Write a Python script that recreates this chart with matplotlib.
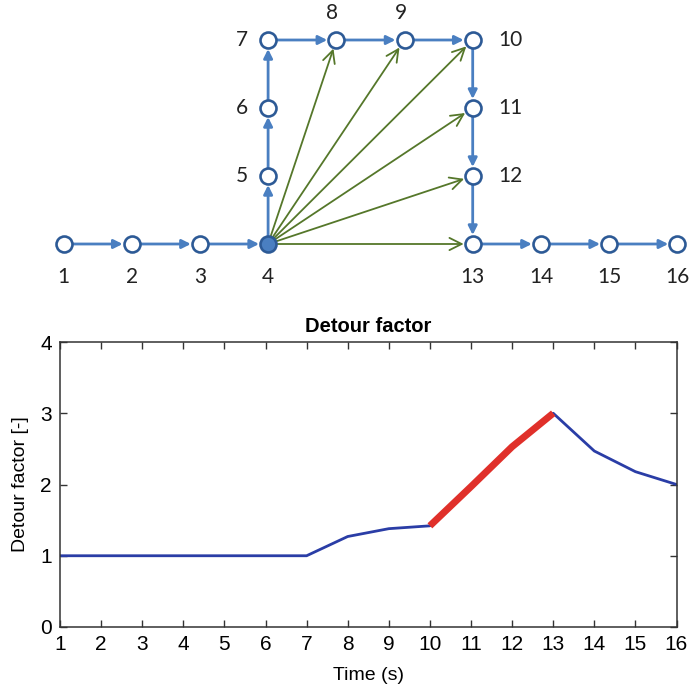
import matplotlib.pyplot as plt

# Graph layout (grid units)
node_ids = list(range(1, 17))
node_gx = [0, 1, 2, 3, 3, 3, 3, 4, 5, 6, 6, 6, 6, 7, 8, 9]
node_gy = [0, 0, 0, 0, 1, 2, 3, 3, 3, 3, 2, 1, 0, 0, 0, 0]
label_side = ['b', 'b', 'b', 'b', 'l', 'l', 'l', 't', 't', 'r', 'r', 'r', 'b', 'b', 'b', 'b']
path_edges = [(i, i + 1) for i in range(1, 16)]
shortcut_edges = [(4, 8), (4, 9), (4, 10), (4, 11), (4, 12), (4, 13)]
current_node = 4

# Detour factor series
time_s = [1, 2, 3, 4, 5, 6, 7, 8, 9, 10, 11, 12, 13, 14, 15, 16]
detour = [1.0, 1.0, 1.0, 1.0, 1.0, 1.0, 1.0, 1.27, 1.38, 1.42, 1.97, 2.53, 3.0, 2.47, 2.18, 2.0]
red_from, red_to = 10, 13

blue = '#4a7fc1'
dark = '#2d5a96'
green = '#55772a'

fig = plt.figure(figsize=(6.9, 6.89), dpi=100)

# --- top: network diagram ---
ax1 = fig.add_axes([0, 1 - 290 / 689, 1, 290 / 689])
ax1.set_xlim(-63.5 / 68.2, (690 - 63.5) / 68.2)
ax1.set_ylim((244 - 290) / 68.0, 244 / 68.0)
ax1.axis('off')

pos = {n: (x, y) for n, x, y in zip(node_ids, node_gx, node_gy)}

for a, b in shortcut_edges:
    ax1.annotate('', xy=pos[b], xytext=pos[a],
                 arrowprops=dict(arrowstyle='->', color=green, lw=1.3,
                                 shrinkA=0, shrinkB=6.5, mutation_scale=22),
                 zorder=1)
for a, b in path_edges:
    ax1.annotate('', xy=pos[b], xytext=pos[a],
                 arrowprops=dict(arrowstyle='-|>', color=blue, lw=2.0,
                                 shrinkA=6, shrinkB=6.5, mutation_scale=13),
                 zorder=2)

for n in node_ids:
    x, y = pos[n]
    face = blue if n == current_node else 'white'
    ax1.plot(x, y, 'o', ms=11.5, mfc=face, mec=dark, mew=1.9, zorder=3)

offsets = {'b': (0, -33, 'center'), 't': (-4, 27, 'center'),
           'l': (-26, 0, 'center'), 'r': (26, 0, 'left')}
for n, side in zip(node_ids, label_side):
    dx, dy, ha = offsets[side]
    ax1.annotate(str(n), xy=pos[n], xytext=(dx * 0.72, dy * 0.72),
                 textcoords='offset points', ha=ha, va='center',
                 fontsize=15, family='Lato', color='#222222')

# --- bottom: detour factor ---
ax2 = fig.add_axes([60 / 690, 62 / 689, 616.5 / 690, 285 / 689])
ax2.plot(time_s, detour, color='#2a3da6', lw=2.0, zorder=2)
i0, i1 = time_s.index(red_from), time_s.index(red_to)
ax2.plot(time_s[i0:i1 + 1], detour[i0:i1 + 1], color='#e0302a', lw=5,
         solid_capstyle='butt', zorder=3)

ax2.set_xlim(1, 16)
ax2.set_ylim(0, 4)
ax2.set_xticks(time_s)
ax2.set_yticks([0, 1, 2, 3, 4])
ax2.tick_params(direction='in', top=True, right=True, length=5,
                labelsize=15, pad=6, width=1, color='#333333')
for s in ax2.spines.values():
    s.set_color('#333333')
    s.set_linewidth(1.1)
ax2.set_title('Detour factor', fontsize=14.5, fontweight='bold', pad=7,
              family='Liberation Sans')
ax2.set_xlabel('Time (s)', fontsize=14, family='Liberation Sans', labelpad=9)
ax2.set_ylabel('Detour factor [-]', fontsize=14, family='Liberation Sans', labelpad=8)
for lab in ax2.get_xticklabels() + ax2.get_yticklabels():
    lab.set_family('Liberation Sans')

fig.savefig('out.png', dpi=100)
